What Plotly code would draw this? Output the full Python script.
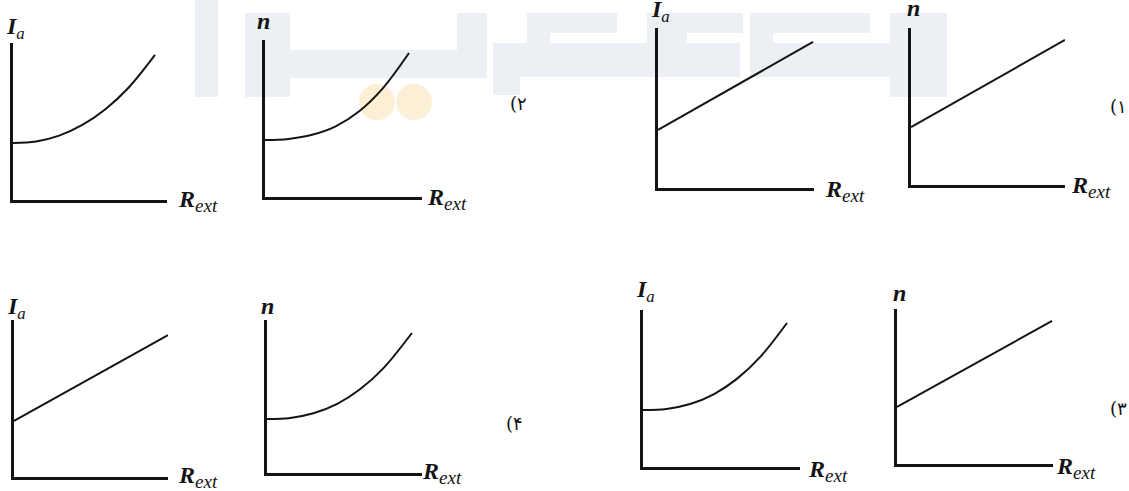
import plotly.graph_objects as go

W, H = 1129, 491

# ---------------- data (arbitrary units 0..10) ----------------
# panel order: A (top-left Ia), B (top n), C (top-right Ia), D (top-right n),
#              E (bottom-left Ia), F (bottom n), G (bottom-right Ia), H (bottom-right n)
ylabels = ["Ia", "n", "Ia", "n", "Ia", "n", "Ia", "n"]
xlabel = "R_ext"
option_labels = ["(۲", "(۱", "(۴", "(۳"]

A_r = [0, 1.5, 3, 4.5, 6, 7.5, 9.22]
A_y = [3.63, 3.73, 4.10, 4.78, 5.78, 7.15, 9.24]
B_r = [0, 1.5, 3, 4.5, 6, 7.5, 9.17]
B_y = [3.63, 3.70, 3.96, 4.50, 5.46, 6.92, 9.17]
C_r = [0, 9.94]
C_y = [3.63, 9.13]
D_r = [0, 10.0]
D_y = [3.69, 9.24]
E_r = [0, 10.0]
E_y = [3.57, 9.04]
F_r = [0, 1.5, 3, 4.5, 6, 7.5, 9.35]
F_y = [3.53, 3.60, 3.90, 4.50, 5.47, 6.84, 9.15]
G_r = [0, 1.5, 3, 4.5, 6, 7.5, 9.17]
G_y = [3.63, 3.70, 4.01, 4.63, 5.63, 7.05, 9.17]
H_r = [0, 9.94]
H_y = [3.68, 9.23]

series = [(A_r, A_y, "spline"), (B_r, B_y, "spline"), (C_r, C_y, "linear"), (D_r, D_y, "linear"),
          (E_r, E_y, "linear"), (F_r, F_y, "spline"), (G_r, G_y, "spline"), (H_r, H_y, "linear")]

# ---------------- layout (pixel boxes of each small axes frame) ----------------
frames = [(13, 167, 200, 43), (265, 422, 197, 40), (658, 814, 188, 28), (911, 1065, 185, 28),
          (14, 168, 477, 320), (267, 422, 473, 320), (643, 800, 467, 310), (897, 1053, 464, 309)]
ylab_off = [(-6, 4), (-2, 10), (-6, 6), (2, 11), (-6, 1), (0, 5), (-6, 8), (2, 7)]
xlab_off = [(11, 3), (5, 2), (11, 1), (6, 2), (10, 4), (0, 4), (8, 0), (3, 0)]
opt_pos = [(1, "left", 86, -64), (3, "right", 64, -78), (5, "left", 82, -103), (7, "right", 76, -99)]

INK = "#141414"
SERIF = "Liberation Serif"

fig = go.Figure()
layout = dict(width=W, height=H, margin=dict(l=0, r=0, t=0, b=0),
              paper_bgcolor="white", plot_bgcolor="rgba(0,0,0,0)", showlegend=False)

for i, ((l, r, b, t), (xs, ys, shp)) in enumerate(zip(frames, series)):
    k = "" if i == 0 else str(i + 1)
    common = dict(range=[0, 10], showline=True, linecolor=INK, linewidth=3, mirror=False,
                  showgrid=False, zeroline=False, showticklabels=False, ticks="", fixedrange=True)
    layout["xaxis" + k] = dict(domain=[l / W, r / W], anchor="y" + k, **common)
    layout["yaxis" + k] = dict(domain=[1 - b / H, 1 - t / H], anchor="x" + k, **common)
    fig.add_trace(go.Scatter(x=xs, y=ys, mode="lines", xaxis="x" + k, yaxis="y" + k,
                             line=dict(color=INK, width=2, shape=shp, smoothing=1.0),
                             hoverinfo="skip"))

fig.update_layout(**layout)

for i, lab in enumerate(ylabels):
    k = "" if i == 0 else str(i + 1)
    dx, dy = ylab_off[i]
    if lab == "Ia":
        txt = "<b><i>I</i></b><sub><i>a</i></sub>"
        fig.add_annotation(x=0, y=1, xref="x" + k + " domain", yref="y" + k + " domain",
                           text=txt, showarrow=False, xanchor="left", yanchor="bottom",
                           xshift=dx - 3, yshift=dy - 6,
                           font=dict(family=SERIF, size=24, color=INK))
    else:
        txt = "<b><i>n</i></b>"
        fig.add_annotation(x=0, y=1, xref="x" + k + " domain", yref="y" + k + " domain",
                           text=txt, showarrow=False, xanchor="center", yanchor="bottom",
                           xshift=dx, yshift=dy - 6,
                           font=dict(family=SERIF, size=24, color=INK))
    ex, ey = xlab_off[i]
    fig.add_annotation(x=1, y=0, xref="x" + k + " domain", yref="y" + k + " domain",
                       text='<b><i>R</i></b><sub><span style="font-size:19px"><i>ext</i></span></sub>',
                       showarrow=False, xanchor="left", yanchor="middle",
                       xshift=ex - 2, yshift=ey - 4,
                       font=dict(family=SERIF, size=24, color=INK))

for (p, anc, dx, dy), txt in zip(opt_pos, option_labels):
    k = "" if p == 0 else str(p + 1)
    fig.add_annotation(x=1, y=1, xref="x" + k + " domain", yref="y" + k + " domain",
                       text="\u200e" + txt, showarrow=False, xanchor=anc, yanchor="middle",
                       xshift=dx, yshift=dy,
                       font=dict(family="DejaVu Serif, DejaVu Sans", size=18, color=INK))

# ---------------- faint watermark (decorative) ----------------
WM = "#eceff3"
wm_rects = [(195, 0, 218, 97), (245, 13, 290, 97), (290, 50, 487, 78), (457, 13, 487, 78),
            (500, 43, 740, 77), (527, 13, 617, 33), (527, 13, 550, 77), (647, 13, 743, 33),
            (647, 13, 687, 77), (750, 43, 890, 77), (750, 13, 870, 33), (750, 13, 773, 77),
            (890, 13, 947, 97), (493, 43, 520, 95)]
for (x0, y0, x1, y1) in wm_rects:
    fig.add_shape(type="rect", xref="paper", yref="paper", x0=x0 / W, x1=x1 / W,
                  y0=1 - y1 / H, y1=1 - y0 / H, fillcolor=WM, line_width=0, layer="below")
for cx in (377, 414):
    fig.add_shape(type="circle", xref="paper", yref="paper", x0=(cx - 18) / W, x1=(cx + 18) / W,
                  y0=1 - (102 + 18) / H, y1=1 - (102 - 18) / H, fillcolor="#fdeed6",
                  line_width=0, layer="below")

fig.write_html("out.html", config={"displayModeBar": False},
               post_script="document.body.style.margin='0';document.body.style.overflow='hidden';")
